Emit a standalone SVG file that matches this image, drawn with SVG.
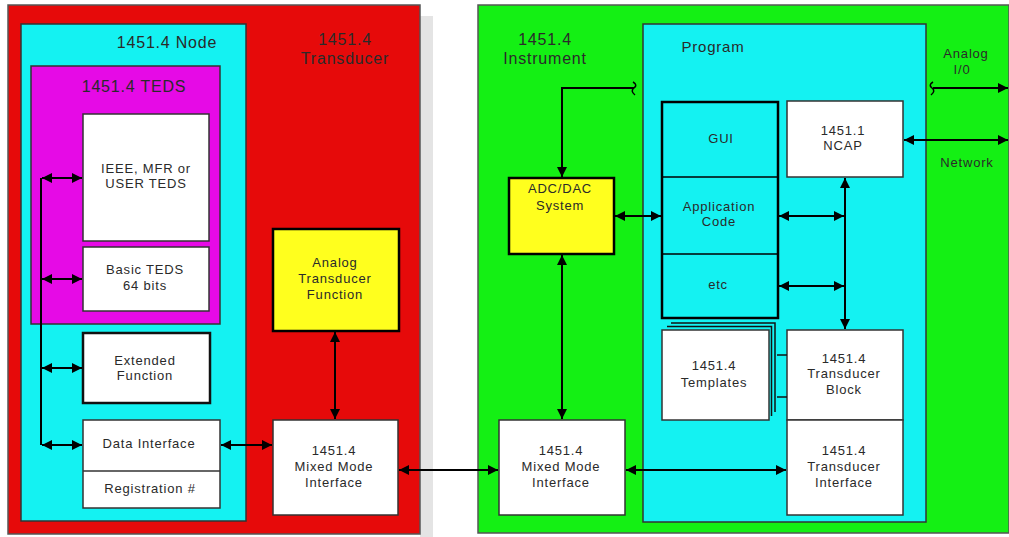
<svg xmlns="http://www.w3.org/2000/svg" width="1009" height="537" viewBox="0 0 1009 537">
<defs>
<marker id="ah" viewBox="0 0 10 10" refX="10" refY="5" markerWidth="5" markerHeight="5" orient="auto-start-reverse" markerUnits="strokeWidth">
<path d="M0,0 L10,5 L0,10 Z" fill="#000"/>
</marker>
<style>
text{font-family:"Liberation Sans",Arial,sans-serif;fill:#2a2a2a;text-anchor:middle}
.t{font-size:13px;letter-spacing:0.8px}
.h{font-size:16px;letter-spacing:0.8px}
.box{fill:#fff;stroke:#333;stroke-width:1.5}
.c{fill:none;stroke:#000;stroke-width:2}
.a{fill:none;stroke:#000;stroke-width:2;marker-end:url(#ah);marker-start:url(#ah)}
.a1{fill:none;stroke:#000;stroke-width:2;marker-end:url(#ah)}
</style>
</defs>
<rect width="1009" height="537" fill="#fff"/>
<rect x="420" y="16" width="13" height="521" fill="#e4e4e4"/>
<g id="transducer">
<rect x="8" y="5" width="412" height="529" fill="#e60a0a" stroke="#555" stroke-width="1.5"/>
<text class="h" x="345" y="45">1451.4</text>
<text class="h" x="345" y="64">Transducer</text>
</g>
<g id="node">
<rect x="21" y="24" width="225" height="497" fill="#14f2f2" stroke="#333" stroke-width="1.5"/>
<text class="h" x="167" y="48">1451.4 Node</text>
</g>
<g id="teds">
<rect x="31" y="66" width="189" height="258" fill="#e60ae6" stroke="#333" stroke-width="1.5"/>
<text class="h" x="134" y="92">1451.4 TEDS</text>
</g>
<g id="ieee">
<rect class="box" x="83" y="114" width="126" height="127"/>
<text class="t" x="146" y="173">IEEE, MFR or</text>
<text class="t" x="146" y="188">USER TEDS</text>
</g>
<g id="basic">
<rect class="box" x="83" y="247" width="126" height="64"/>
<text class="t" x="145" y="274">Basic TEDS</text>
<text class="t" x="145" y="290">64 bits</text>
</g>
<g id="extended">
<rect x="83" y="333" width="127" height="70" style="fill:#fff;stroke:#111;stroke-width:2.5"/>
<text class="t" x="145" y="365">Extended</text>
<text class="t" x="145" y="380">Function</text>
</g>
<g id="datainterface">
<rect class="box" x="83" y="420" width="137" height="88"/>
<line x1="83" y1="471" x2="220" y2="471" stroke="#333" stroke-width="1.5"/>
<text class="t" x="149" y="448">Data Interface</text>
<text class="t" x="150" y="493">Registration #</text>
</g>
<g id="analogfn">
<rect x="273" y="229" width="126" height="102" fill="#ffff1e" stroke="#000" stroke-width="2.5"/>
<text class="t" x="335" y="267">Analog</text>
<text class="t" x="335" y="283">Transducer</text>
<text class="t" x="335" y="299">Function</text>
</g>
<g id="mmi-left">
<rect class="box" x="273" y="420" width="125" height="95"/>
<text class="t" x="334" y="455">1451.4</text>
<text class="t" x="334" y="471">Mixed Mode</text>
<text class="t" x="334" y="487">Interface</text>
</g>
<g id="instrument">
<rect x="478" y="5" width="531" height="528" fill="#14f014" stroke="#555" stroke-width="1.5"/>
<text class="h" x="545" y="45">1451.4</text>
<text class="h" x="545" y="64">Instrument</text>
<text class="t" x="966" y="58">Analog</text>
<text class="t" x="962" y="74">I/0</text>
<text class="t" x="967" y="167">Network</text>
</g>
<g id="program">
<rect x="643" y="24" width="283" height="498" fill="#14f2f2" stroke="#333" stroke-width="1.5"/>
<text class="h" x="713" y="52" style="font-size:15px">Program</text>
</g>
<g id="adc">
<rect x="509" y="178" width="105" height="76" fill="#ffff1e" stroke="#000" stroke-width="2.5"/>
<text class="t" x="560" y="193">ADC/DAC</text>
<text class="t" x="560" y="210">System</text>
</g>
<g id="gui-stack">
<rect x="662" y="102" width="116" height="216" fill="none" stroke="#000" stroke-width="2.5"/>
<line x1="662" y1="177" x2="778" y2="177" stroke="#000" stroke-width="1.5"/>
<line x1="662" y1="254" x2="778" y2="254" stroke="#000" stroke-width="1.5"/>
<text class="t" x="721" y="143">GUI</text>
<text class="t" x="719" y="211">Application</text>
<text class="t" x="719" y="226">Code</text>
<text class="t" x="718" y="289">etc</text>
</g>
<g id="ncap">
<rect class="box" x="787" y="101" width="116" height="76"/>
<text class="t" x="843" y="135">1451.1</text>
<text class="t" x="843" y="150">NCAP</text>
</g>
<g id="templates">
<path d="M671,323 H775 V412" fill="none" stroke="#111" stroke-width="1.5"/>
<path d="M667,326.5 H771.5 V416" fill="none" stroke="#111" stroke-width="1.5"/>
<rect class="box" x="662" y="330" width="107" height="90"/>
<text class="t" x="714" y="370">1451.4</text>
<text class="t" x="714" y="387">Templates</text>
</g>
<g id="tblock">
<rect class="box" x="787" y="330" width="116" height="90"/>
<text class="t" x="844" y="363">1451.4</text>
<text class="t" x="844" y="378">Transducer</text>
<text class="t" x="844" y="394">Block</text>
</g>
<g id="tinterface">
<rect class="box" x="787" y="420" width="116" height="95"/>
<text class="t" x="844" y="455">1451.4</text>
<text class="t" x="844" y="471">Transducer</text>
<text class="t" x="844" y="487">Interface</text>
</g>
<g id="mmi-right">
<rect class="box" x="499" y="420" width="126" height="95"/>
<text class="t" x="561" y="455">1451.4</text>
<text class="t" x="561" y="471">Mixed Mode</text>
<text class="t" x="561" y="487">Interface</text>
</g>
<g id="connectors">
<line class="c" x1="41" y1="178" x2="41" y2="445"/>
<line class="a" x1="42" y1="178" x2="82" y2="178"/>
<line class="a" x1="42" y1="279" x2="82" y2="279"/>
<line class="a" x1="42" y1="368" x2="82" y2="368"/>
<line class="a" x1="42" y1="445" x2="82" y2="445"/>
<line class="a" x1="221" y1="445" x2="272" y2="445"/>
<line class="a" x1="335" y1="332" x2="335" y2="419"/>
<line class="a" x1="399" y1="470" x2="498" y2="470"/>
<line class="a" x1="626" y1="470" x2="786" y2="470"/>
<line class="a" x1="562" y1="255" x2="562" y2="419"/>
<path class="a1" d="M634,88 H562 V177"/>
<path d="M633,82 q5,3 1,6 q-4,3 1,7" fill="none" stroke="#000" stroke-width="1.5"/>
<line class="a" x1="615" y1="216" x2="661" y2="216"/>
<line class="a" x1="904" y1="140" x2="1008" y2="140"/>
<line class="a1" x1="933" y1="88" x2="1008" y2="88"/>
<path d="M933,82 q-5,3 -1,6 q4,3 -1,7" fill="none" stroke="#000" stroke-width="1.5"/>
<line class="a" x1="845" y1="178" x2="845" y2="329"/>
<line class="a" x1="779" y1="216" x2="844" y2="216"/>
<line class="a" x1="779" y1="286" x2="844" y2="286"/>
<line x1="777" y1="355" x2="787" y2="355" stroke="#111" stroke-width="1.5"/>
<line x1="777" y1="397" x2="787" y2="397" stroke="#111" stroke-width="1.5"/>
</g>
</svg>
